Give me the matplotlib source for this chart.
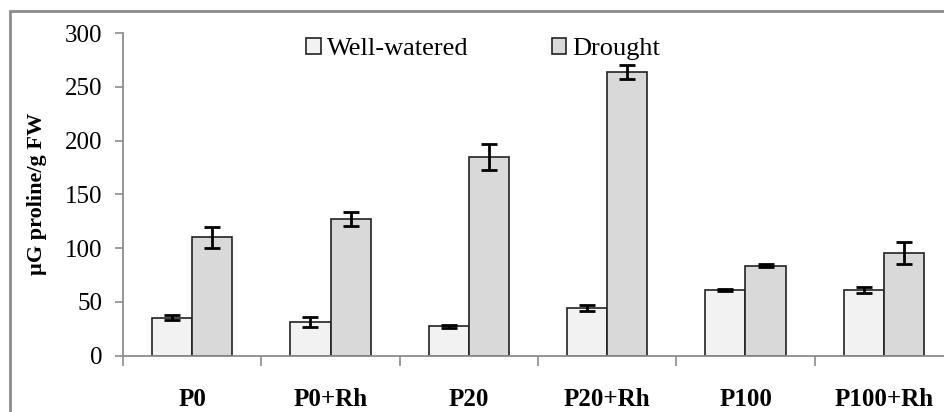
import matplotlib.pyplot as plt
import numpy as np
from matplotlib.patches import Rectangle

# data
categories = ["P0", "P0+Rh", "P20", "P20+Rh", "P100", "P100+Rh"]
well_watered = [35.5, 31, 27.5, 44, 61, 61]
well_watered_err = [2.6, 4.6, 1.5, 2.9, 1.0, 2.8]
drought = [110, 127.5, 185, 263.5, 83.5, 95.5]
drought_err = [10, 6.5, 12.2, 6.3, 1.5, 9.9]
series_names = ["Well-watered", "Drought"]

plt.rcParams['font.family'] = ['Liberation Serif', 'DejaVu Serif']

W, H = 944, 412
fig = plt.figure(figsize=(W / 100, H / 100), dpi=100)

# axes box in pixels (right edge runs past the picture, as in the reference)
left, right, top, bottom = 123, 953, 33, 355.7
ax = fig.add_axes([left / W, 1 - bottom / H, (right - left) / W, (bottom - top) / H])

x = np.arange(len(categories))
bw = 0.29
err_kw = dict(ecolor="black", elinewidth=2, capsize=6, capthick=2)
ax.bar(x - bw / 2, well_watered, bw, yerr=well_watered_err, color="#f2f2f2",
       edgecolor="#222222", linewidth=1.2, error_kw=err_kw, label=series_names[0])
ax.bar(x + bw / 2, drought, bw, yerr=drought_err, color="#d9d9d9",
       edgecolor="#222222", linewidth=1.2, error_kw=err_kw, label=series_names[1])

ax.set_xlim(-0.5, len(categories) - 0.5)
ax.set_ylim(0, 300)
ax.set_yticks(range(0, 301, 50))

for s in ["top", "right"]:
    ax.spines[s].set_visible(False)
for s in ["left", "bottom"]:
    ax.spines[s].set_color("#8c8c8c")
    ax.spines[s].set_linewidth(1.3)

ax.tick_params(axis="y", direction="out", length=6, width=1.2, color="#8c8c8c",
               labelsize=18, pad=9)
ax.set_xticks(x)
ax.set_xticklabels(categories, fontsize=18, fontweight="bold")
ax.tick_params(axis="x", which="major", length=0, pad=23)
ax.set_xticks(np.arange(-0.5, len(categories), 1.0), minor=True)
ax.tick_params(axis="x", which="minor", direction="out", length=7, width=1.2, color="#8c8c8c")

ax.set_ylabel("µG proline/g FW", fontsize=16, fontweight="bold", labelpad=13)

ax.legend(loc="upper left", bbox_to_anchor=(0.208, 1.018), ncol=2, frameon=False,
          fontsize=19, handlelength=0.55, handleheight=0.55, handletextpad=0.25,
          columnspacing=3.13, borderaxespad=0)

# grey outer border like the chart area of the original
fig.patches.append(Rectangle((10 / W, -0.1), 1.2, 1 - 11 / H + 0.1, transform=fig.transFigure,
                             fill=False, edgecolor="#8c8c8c", linewidth=2))

fig.savefig("out.png", dpi=100)
